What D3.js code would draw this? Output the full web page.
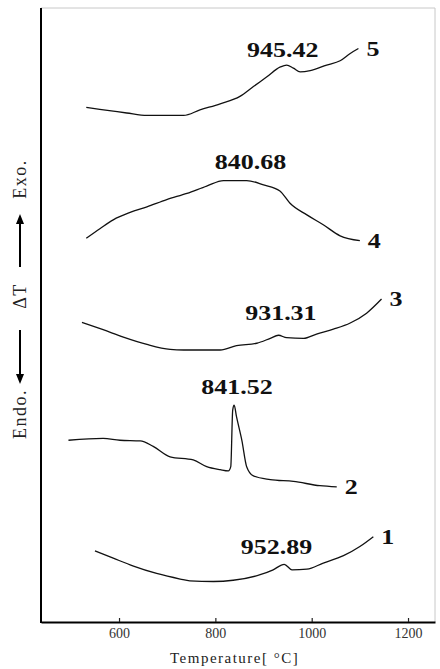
<!DOCTYPE html>
<html>
<head>
<meta charset="utf-8">
<script src="https://cdn.jsdelivr.net/npm/d3@7"></script>
<style>
  body { margin: 0; background: #fff; }
  svg { display: block; }
</style>
</head>
<body>
<div id="my_dataviz"></div>
<script>

// DTA curves, [temperature °C, ΔT (arbitrary units, offset per sample)]
var curve1 = [[550,11.6],[588,10.4],[630,9.1],[678,7.9],[727,7.0],[747,6.7],[796,6.6],[837,6.8],[893,7.7],[920,8.5],[943,9.4],[959,8.5],[990,8.6],[1024,9.6],[1066,10.8],[1100,12.3],[1128,13.9]];
var curve2 = [[495,29.6],[567,29.9],[602,29.6],[644,29.5],[671,28.6],[706,26.9],[754,26.4],[782,25.3],[810,24.8],[827,24.6],[832,25.3],[836,34.5],[839,35.3],[844,33.4],[855,29.6],[865,25.3],[879,23.8],[914,23.2],[962,22.9],[1017,22.2],[1052,22.0]];
var curve3 = [[523,48.8],[567,47.6],[609,46.4],[658,45.2],[706,44.4],[734,44.3],[810,44.3],[844,45.0],[886,45.4],[914,46.2],[931,46.7],[948,46.3],[983,46.2],[1010,46.9],[1045,47.7],[1080,48.7],[1114,50.3],[1145,52.6]];
var curve4 = [[532,62.5],[561,64.1],[588,65.5],[623,66.7],[658,67.6],[699,68.8],[741,69.8],[782,71.0],[817,71.9],[865,71.9],[900,71.2],[934,70.2],[955,68.2],[990,66.3],[1024,64.7],[1059,62.9],[1100,62.1]];
var curve5 = [[532,83.8],[588,83.2],[616,82.9],[658,82.5],[734,82.5],[768,83.4],[810,84.4],[851,85.6],[879,87.2],[907,88.8],[935,90.4],[948,90.7],[962,90.2],[976,89.6],[997,89.8],[1031,90.7],[1059,91.4],[1080,92.6],[1097,93.4]];

var curves = [curve1, curve2, curve3, curve4, curve5];
var curveNames = ["1", "2", "3", "4", "5"];

// peak temperature labels: [text, temperature, value]
var peakLabels = [["952.89", 927, 11.1], ["841.52", 845, 37.1], ["931.31", 936, 49.2], ["840.68", 873, 73.8], ["945.42", 940, 92.1]];

var xTicks = [600, 800, 1000, 1200];
var xTitle = "Temperature[ °C]";

var W = 440, H = 669;
var margin = {top: 8, right: 5, bottom: 47, left: 41};
var serif = "'Liberation Serif', 'Times New Roman', serif";

var svg = d3.select("#my_dataviz")
  .append("svg")
  .attr("width", W)
  .attr("height", H);

svg.append("rect").attr("width", W).attr("height", H).attr("fill", "#fff");

var x = d3.scaleLinear()
  .domain([438, 1256])
  .range([margin.left, W - margin.right]);

var y = d3.scaleLinear()
  .domain([0, 100])
  .range([H - margin.bottom, margin.top]);

// light frame on top and right
svg.append("path")
  .attr("d", "M" + x.range()[0] + "," + y.range()[1] + "H" + x.range()[1] + "V" + y.range()[0])
  .attr("fill", "none")
  .attr("stroke", "#c8c8c8")
  .attr("stroke-width", 1);

// x axis, ticks pointing inward
var xAxis = svg.append("g")
  .attr("transform", "translate(0," + y.range()[0] + ")")
  .call(d3.axisBottom(x).tickValues(xTicks).tickFormat(d3.format("d"))
    .tickSizeInner(-4).tickSizeOuter(0).tickPadding(6));
xAxis.select(".domain").attr("stroke", "#000").attr("stroke-width", 2);
xAxis.selectAll(".tick line").attr("stroke", "#222").attr("stroke-width", 1.2);
xAxis.selectAll(".tick text")
  .attr("font-family", serif)
  .attr("font-size", "14px")
  .attr("fill", "#333");

// left axis, no ticks
svg.append("line")
  .attr("x1", x.range()[0]).attr("x2", x.range()[0])
  .attr("y1", y.range()[1]).attr("y2", y.range()[0] + 1)
  .attr("stroke", "#000")
  .attr("stroke-width", 2);

svg.append("text")
  .attr("x", x(840))
  .attr("y", H - 6)
  .attr("text-anchor", "middle")
  .attr("font-family", serif)
  .attr("font-size", "15px")
  .attr("letter-spacing", "1.5px")
  .attr("fill", "#222")
  .text(xTitle);

// y label: Endo. <--- ΔT ---> Exo.
var yl = svg.append("g").attr("transform", "translate(20,0) rotate(-90)");
var ylFont = function(t) {
  return t.attr("font-family", serif)
    .attr("font-size", "18px")
    .attr("letter-spacing", "1.5px")
    .attr("text-anchor", "middle")
    .attr("dominant-baseline", "central")
    .attr("fill", "#222");
};
yl.append("text").attr("x", -414).attr("y", 0).call(ylFont).text("Endo.");
yl.append("text").attr("x", -296).attr("y", 0).call(ylFont).text("ΔT");
yl.append("text").attr("x", -179).attr("y", 0).call(ylFont).text("Exo.");

function arrow(from, to) {
  var dir = to > from ? 1 : -1;
  yl.append("line")
    .attr("x1", from).attr("x2", to - dir * 8)
    .attr("y1", 0).attr("y2", 0)
    .attr("stroke", "#000").attr("stroke-width", 2);
  yl.append("path")
    .attr("d", "M" + to + ",0L" + (to - dir * 10) + ",-4L" + (to - dir * 10) + ",4Z")
    .attr("fill", "#000");
}
arrow(-330, -384);
arrow(-267, -214);

// curves
var line = d3.line()
  .curve(d3.curveMonotoneX)
  .x(function(d) { return x(d[0]); })
  .y(function(d) { return y(d[1]); });

svg.append("g")
  .selectAll("path")
  .data(curves)
  .enter().append("path")
  .attr("d", line)
  .attr("fill", "none")
  .attr("stroke", "#111")
  .attr("stroke-width", 1.3)
  .attr("stroke-linejoin", "round");

// bold wide labels
function boldLabel(px, py, txt, anchor) {
  svg.append("g")
    .attr("transform", "translate(" + px + "," + py + ")")
    .append("text")
    .attr("transform", "scale(1.3,1)")
    .attr("text-anchor", anchor)
    .attr("font-family", serif)
    .attr("font-weight", "bold")
    .attr("font-size", "20px")
    .attr("fill", "#111")
    .text(txt);
}

curves.forEach(function(c, i) {
  var last = c[c.length - 1];
  boldLabel(x(last[0]) + 8, y(last[1]) + 7, curveNames[i], "start");
});

peakLabels.forEach(function(p) {
  boldLabel(x(p[1]), y(p[2]), p[0], "middle");
});

</script>
</body>
</html>
